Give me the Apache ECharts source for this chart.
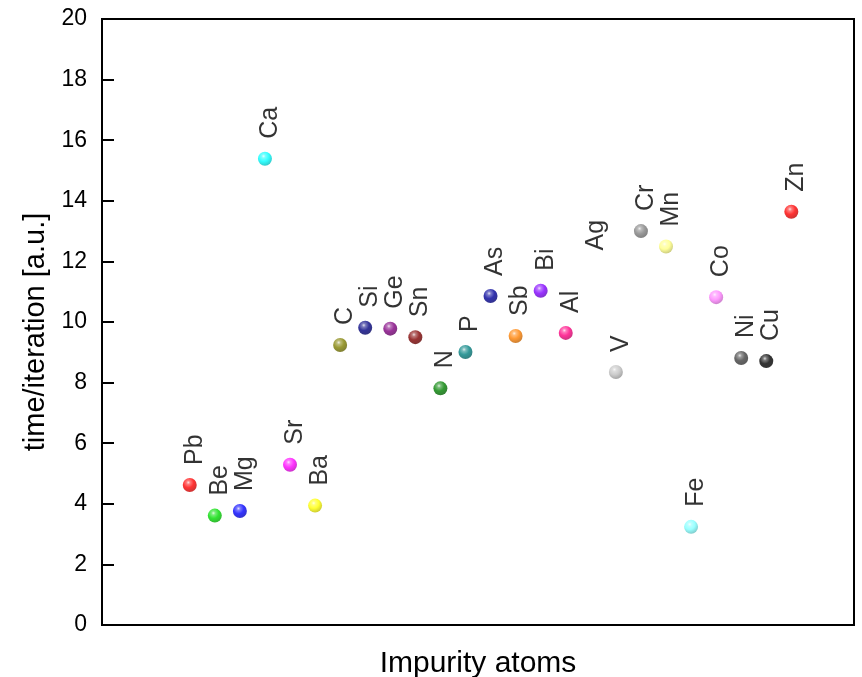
<!DOCTYPE html>
<html>
<head>
<meta charset="utf-8">
<script src="https://cdn.jsdelivr.net/npm/echarts@6/dist/echarts.min.js"></script>
<style>html,body{margin:0;padding:0;background:#fff;}#c{width:862px;height:677px;}</style>
</head>
<body>
<div id="c"></div>
<script>
const elements = ['Pb','Be','Mg','Ca','Sr','Ba','C','Si','Ge','Sn','N','P','As','Sb','Bi','Al','Ag','V','Cr','Mn','Fe','Co','Ni','Cu','Zn'];
const values = [4.62,3.61,3.76,15.39,5.29,3.94,9.24,9.81,9.78,9.50,7.81,9.01,10.86,9.54,11.03,9.64,11.7,8.35,13.0,12.49,3.24,10.82,8.81,8.71,13.64];
const colors = ['#ff0000','#00dd00','#0000ff','#00ffff','#ff00ff','#ffff00','#808000','#000080','#800080','#800000','#008000','#008080','#000099','#ff8000','#8000ff','#ff0080',null,'#c0c0c0','#808080','#ffff80','#80ffff','#ff80ff','#404040','#000000','#ff0000'];
const yTicks = [0,2,4,6,8,10,12,14,16,18,20];
const leadPad = 3, tailPad = 2;

const categories = [];
for (let i = 0; i < leadPad; i++) categories.push('pad' + i);
elements.forEach(e => categories.push(e));
for (let i = 0; i < tailPad; i++) categories.push('padEnd' + i);

function mix(hex, target, t) {
  const r = parseInt(hex.slice(1,3),16), g = parseInt(hex.slice(3,5),16), b = parseInt(hex.slice(5,7),16);
  const f = v => Math.round(v + (target - v) * t);
  return 'rgb(' + f(r) + ',' + f(g) + ',' + f(b) + ')';
}
function sphere(c) {
  if (!c) return 'rgba(255,255,255,0)';
  return {
    type: 'radial', x: 0.4, y: 0.32, r: 0.75,
    colorStops: [
      {offset: 0, color: mix(c, 255, 0.85)},
      {offset: 0.18, color: mix(c, 255, 0.35)},
      {offset: 0.5, color: c},
      {offset: 1, color: mix(c, 0, 0.3)}
    ]
  };
}

const FONT = "'Liberation Sans', Arial, sans-serif";
const seriesData = elements.map((e, i) => ({
  value: [e, values[i]],
  itemStyle: {color: sphere(colors[i])}
}));

const chart = echarts.init(document.getElementById('c'), null, {renderer: 'canvas'});
chart.setOption({
  animation: false,
  backgroundColor: '#fff',
  grid: {left: 102, right: 8, top: 19, bottom: 52, show: true, borderColor: '#000', borderWidth: 2, containLabel: false, outerBoundsMode: 'none'},
  xAxis: {
    type: 'category',
    data: categories,
    boundaryGap: true,
    axisLine: {show: true, lineStyle: {color: '#000', width: 2}},
    axisTick: {show: false},
    axisLabel: {show: false},
    splitLine: {show: false},
    name: 'Impurity atoms',
    nameLocation: 'middle',
    nameGap: 24,
    nameTextStyle: {fontSize: 30, color: '#000', fontFamily: FONT}
  },
  yAxis: {
    type: 'value',
    min: yTicks[0],
    max: yTicks[yTicks.length - 1],
    interval: yTicks[1] - yTicks[0],
    axisLine: {show: true, lineStyle: {color: '#000', width: 2}},
    axisTick: {show: true, inside: true, length: 12, lineStyle: {color: '#000', width: 2}},
    axisLabel: {fontSize: 23, color: '#000', fontFamily: FONT, margin: 15},
    splitLine: {show: false},
    name: 'time/iteration [a.u.]',
    nameLocation: 'middle',
    nameGap: 52,
    nameTextStyle: {fontSize: 29, color: '#000', fontFamily: FONT, padding: [0, 20, 0, 0]}
  },
  series: [{
    type: 'scatter',
    symbol: 'circle',
    symbolSize: 14,
    data: seriesData,
    label: {
      show: true,
      position: 'top',
      rotate: 90,
      align: 'left',
      verticalAlign: 'middle',
      distance: 11,
      offset: [2, 5],
      fontSize: 25,
      color: '#000',
      fontFamily: FONT,
      formatter: p => p.value[0]
    }
  }]
});
</script>
</body>
</html>
